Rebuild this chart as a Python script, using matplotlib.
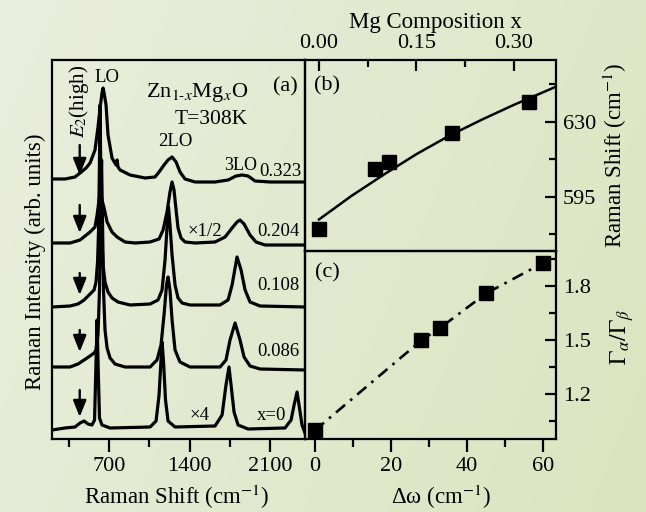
import matplotlib.pyplot as plt
import numpy as np
from matplotlib.ticker import MultipleLocator, FixedLocator, FormatStrFormatter

plt.rcParams.update({
    'font.family': ['Liberation Serif', 'DejaVu Serif'],
    'mathtext.fontset': 'stix',
    'font.size': 16,
    'axes.linewidth': 1.6,
})

# --------------------
# (a) Raman spectra, intensity above each baseline (arb. units)
# --------------------
shift_000 = [204, 317, 404, 448, 483, 517, 552, 574, 585, 596, 606, 617, 639, 709,
             1057, 1109, 1135, 1152, 1161, 1174, 1191, 1213, 1274, 1622, 1683, 1717,
             1743, 1761, 1787, 1822, 1909, 2230, 2283, 2309, 2335, 2352, 2378, 2404]
int_000 = [-1, 1, 2, 6, 8, 5, 4, 9, 59, 109, 59, 11, 4, 1,
           2, 8, 34, 69, 87, 67, 29, 8, 2, 3, 14, 44,
           62, 44, 17, 4, 0, 1, 9, 24, 37, 24, 4, -4]

shift_086 = [204, 361, 430, 483, 535, 570, 587, 604, 617, 626, 635, 643, 652, 665,
             683, 709, 752, 839, 1057, 1117, 1152, 1178, 1200, 1213, 1230, 1248, 1274,
             1317, 1404, 1665, 1717, 1752, 1796, 1839, 1874, 1926, 2013, 2404]
int_086 = [1, 1, 4, 8, 12, 15, 18, 33, 78, 148, 208, 148, 78, 38,
           20, 10, 4, 1, 1, 8, 23, 53, 83, 91, 78, 48, 18,
           6, 1, 1, 8, 28, 45, 28, 11, 2, -1, -2]

shift_108 = [204, 361, 430, 483, 535, 570, 587, 600, 609, 616, 622, 628, 635, 648,
             665, 691, 726, 778, 883, 1057, 1126, 1161, 1187, 1204, 1217, 1230, 1248,
             1274, 1300, 1335, 1404, 1665, 1735, 1770, 1813, 1848, 1883, 1926, 2013, 2404]
int_108 = [-1, 0, 2, 6, 12, 16, 24, 44, 76, 136, 201, 136, 76, 41,
           24, 14, 8, 4, 1, 2, 6, 16, 46, 78, 99, 81, 51,
           21, 8, 3, 1, 1, 6, 21, 49, 36, 16, 4, 0, -1]

shift_204 = [204, 361, 448, 535, 578, 596, 613, 622, 639, 657, 683, 726, 770, 839,
             926, 1057, 1135, 1170, 1204, 1230, 1248, 1265, 1283, 1300, 1326, 1361,
             1448, 1622, 1709, 1770, 1813, 1839, 1874, 1926, 1978, 2057, 2404]
int_204 = [1, 1, 4, 12, 17, 29, 44, 51, 44, 36, 22, 12, 7, 2,
           1, 2, 5, 14, 32, 52, 62, 54, 34, 16, 6, 2,
           1, 2, 7, 16, 22, 24, 20, 9, 2, -1, -1]

shift_323 = [204, 317, 404, 448, 500, 535, 578, 604, 622, 639, 648, 657, 674, 691,
             726, 761, 770, 778, 796, 883, 1013, 1100, 1135, 1178, 1213, 1248, 1283,
             1317, 1361, 1448, 1622, 1735, 1804, 1857, 1909, 1970, 2100, 2404]
int_323 = [1, 1, 3, 7, 12, 17, 30, 53, 72, 87, 92, 87, 75, 45,
           22, 15, 20, 13, 10, 5, 2, 3, 8, 15, 20, 23, 18,
           8, 1, -2, -2, 0, 4, 5, 4, -1, -2, -2]

comp_labels = ['x=0', '0.086', '0.108', '0.204', '0.323']
offsets = [10, 71, 133, 195, 259]
e2_tip = [22, 87, 144, 206, 264]
e2_tail = [49, 109, 166, 234, 294]
e2_shift = 445

# --------------------
# (b) LO frequency vs Mg composition
# --------------------
mg_x = [0.0, 0.086, 0.108, 0.204, 0.323]
lo_freq = [580.1, 608.1, 611.3, 624.9, 639.3]
fit_x = [0.0, 0.05, 0.10, 0.15, 0.20, 0.25, 0.30, 0.365]
fit_lo = [584.5, 595.5, 605.5, 615.0, 623.5, 631.0, 638.0, 646.5]

# --------------------
# (c) linewidth ratio vs LO shift
# --------------------
d_omega = [0, 28, 33, 45, 60]
gamma_ratio = [1.00, 1.50, 1.57, 1.76, 1.93]

W, H = 646, 512
fig = plt.figure(figsize=(W / 100, H / 100), dpi=100)


def rect(x0, y0, x1, y1):
    return [x0 / W, 1 - y1 / H, (x1 - x0) / W, (y1 - y0) / H]


# paper-tone background
bg = fig.add_axes([0, 0, 1, 1], zorder=-10)
gx, gy = np.meshgrid(np.linspace(0, 1, 200), np.linspace(0, 1, 160))
t = 0.75 * gx + 0.25 * gy
c0 = np.array([234, 238, 221]) / 255
c1 = np.array([219, 228, 192]) / 255
bg.imshow(c0 + (c1 - c0) * t[..., None], extent=[0, 1, 0, 1], aspect='auto')
bg.axis('off')

ax_a = fig.add_axes(rect(52, 60, 305, 439))
ax_b = fig.add_axes(rect(305, 60, 556, 251))
ax_c = fig.add_axes(rect(305, 251, 556, 439))
for ax in (ax_a, ax_b, ax_c):
    ax.set_facecolor('none')

lw = 2.3
spectra = [(shift_000, int_000), (shift_086, int_086), (shift_108, int_108),
           (shift_204, int_204), (shift_323, int_323)]
for (s, i), off in zip(spectra, offsets):
    ax_a.plot(s, off + np.array(i), color='black', lw=lw, solid_joinstyle='round')

for tip, tail in zip(e2_tip, e2_tail):
    ax_a.annotate('', xy=(e2_shift, tip), xytext=(e2_shift, tail),
                  arrowprops=dict(arrowstyle='-|>,head_length=1.0,head_width=0.4',
                                  mutation_scale=10, color='black', lw=1.7,
                                  shrinkA=0, shrinkB=0))

ax_a.set_xlim(204, 2404)
ax_a.set_ylim(0, 379)
ax_a.xaxis.set_major_locator(MultipleLocator(700))
ax_a.xaxis.set_minor_locator(MultipleLocator(350))
ax_a.tick_params(axis='x', which='both', direction='out', width=1.6, pad=4,
                 labelsize=16)
ax_a.tick_params(axis='x', which='major', length=9)
ax_a.tick_params(axis='x', which='minor', length=6)
ax_a.tick_params(axis='y', left=False, labelleft=False)
ax_a.set_xlabel('Raman Shift (cm$^{-1}$)', fontsize=16.5)
ax_a.xaxis.set_label_coords(0.494, -0.115)
ax_a.set_ylabel('Raman Intensity (arb. units)', fontsize=16.5)
ax_a.yaxis.set_label_coords(-0.024, 0.467)

ax_a.text(683, 361, 'LO', fontsize=13.5, ha='center', va='center')
ax_a.text(437, 338, '$E_2$(high)', fontsize=15, rotation=90, ha='center', va='center')
ax_a.text(1470, 347, 'Zn$_{1\\text{-}x}$Mg$_x$O', fontsize=16, ha='center', va='center')
ax_a.text(1587, 319, 'T=308K', fontsize=15.5, ha='center', va='center')
ax_a.text(1274, 297, '2LO', fontsize=13.5, ha='center', va='center')
ax_a.text(1848, 273, '3LO', fontsize=13, ha='center', va='center')
ax_a.text(2230, 352, '(a)', fontsize=16, ha='center', va='center')
ax_a.text(1535, 207, '×1/2', fontsize=13.5, ha='center', va='center')
ax_a.text(1491, 24, '×4', fontsize=13.5, ha='center', va='center')
label_x = [2117, 2170, 2170, 2170, 2187]
label_y = [23, 88, 153, 208, 268]
for txt, lx, ly in zip(comp_labels, label_x, label_y):
    ax_a.text(lx, ly, txt, fontsize=13.5, ha='center', va='center')

# (b)
ax_b.plot(fit_x, fit_lo, color='black', lw=1.8)
ax_b.plot(mg_x, lo_freq, 's', color='black', ms=9.5)
ax_b.set_xlim(-0.0215, 0.3646)
ax_b.set_ylim(569.8, 658.9)
ax_b.xaxis.set_major_locator(FixedLocator([0.0, 0.15, 0.30]))
ax_b.xaxis.set_major_formatter(FormatStrFormatter('%.2f'))
ax_b.xaxis.set_minor_locator(FixedLocator([0.075, 0.225]))
ax_b.yaxis.set_major_locator(FixedLocator([595, 630]))
ax_b.yaxis.set_minor_locator(FixedLocator([577.5, 612.5, 647.5]))
ax_b.tick_params(axis='x', which='both', direction='in', top=True, bottom=False,
                 labeltop=True, labelbottom=False, width=1.6, pad=5, labelsize=16)
ax_b.tick_params(axis='y', which='both', direction='in', right=True, left=False,
                 labelright=True, labelleft=False, width=1.6, pad=5, labelsize=16)
ax_b.tick_params(which='major', length=8)
ax_b.tick_params(which='minor', length=5)
ax_b.xaxis.set_label_position('top')
ax_b.set_xlabel('Mg Composition x', fontsize=16.5)
ax_b.xaxis.set_label_coords(0.52, 1.17)
ax_b.yaxis.set_label_position('right')
ax_b.set_ylabel('Raman Shift (cm$^{-1}$)', fontsize=16.5)
ax_b.yaxis.set_label_coords(1.18, 0.5)
ax_b.text(0.088, 0.864, '(b)', transform=ax_b.transAxes, fontsize=16,
          ha='center', va='center')

# (c)
ax_c.plot(d_omega, gamma_ratio, color='black', lw=1.9, dashes=(4.5, 2.5, 1, 2.5))
ax_c.plot(d_omega, gamma_ratio, 's', color='black', ms=10)
ax_c.set_xlim(-2.6, 63.4)
ax_c.set_ylim(0.952, 1.996)
ax_c.xaxis.set_major_locator(MultipleLocator(20))
ax_c.xaxis.set_minor_locator(MultipleLocator(10))
ax_c.yaxis.set_major_locator(FixedLocator([1.2, 1.5, 1.8]))
ax_c.yaxis.set_minor_locator(FixedLocator([1.05, 1.35, 1.65, 1.95]))
ax_c.tick_params(axis='x', which='both', direction='out', width=1.6, pad=4,
                 labelsize=16)
ax_c.tick_params(axis='x', which='major', length=9)
ax_c.tick_params(axis='x', which='minor', length=6)
ax_c.tick_params(axis='y', which='both', direction='in', right=True, left=False,
                 labelright=True, labelleft=False, width=1.6, pad=5, labelsize=16)
ax_c.tick_params(axis='y', which='major', length=8)
ax_c.tick_params(axis='y', which='minor', length=5)
ax_c.set_xlabel('Δω (cm$^{-1}$)', fontsize=16.5)
ax_c.xaxis.set_label_coords(0.54, -0.232)
ax_c.yaxis.set_label_position('right')
ax_c.set_ylabel(r'$\Gamma_\alpha/\Gamma_\beta$', fontsize=17)
ax_c.yaxis.set_label_coords(1.207, 0.543)
ax_c.text(0.088, 0.883, '(c)', transform=ax_c.transAxes, fontsize=16,
          ha='center', va='center')

fig.savefig('out.png', dpi=100)
